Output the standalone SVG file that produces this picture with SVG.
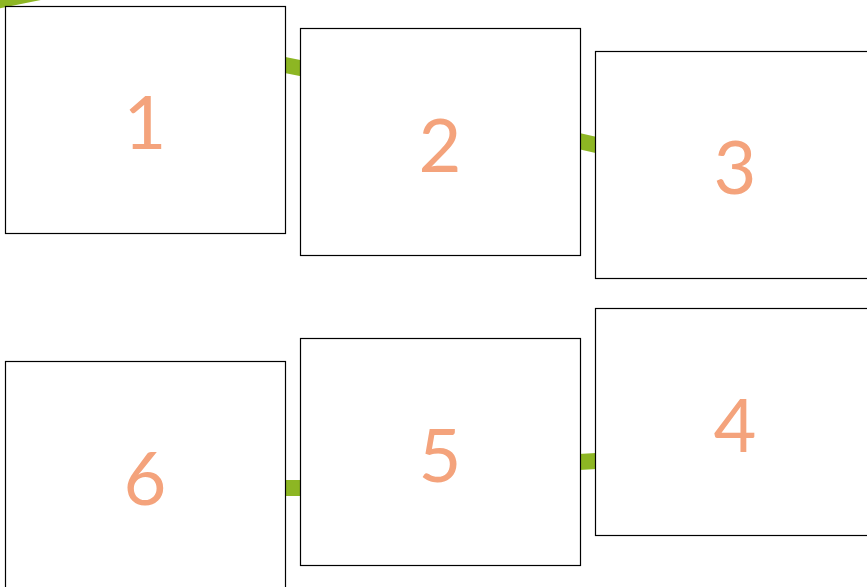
<svg xmlns="http://www.w3.org/2000/svg" width="867" height="587" viewBox="0 0 867 587">
<style>
.box rect{fill:#fff;stroke:#000;stroke-width:1.2}
.box text{font-family:Lato,"Open Sans",sans-serif;font-size:74px;fill:#F4A37C;text-anchor:middle}
.conn line{stroke:#8DB623;stroke-width:16;fill:none}
</style>
<rect width="867" height="587" fill="#fff"/>
<g id="connectors" class="conn">
<line x1="-20" y1="4" x2="60" y2="-12"/>
<line x1="275" y1="63" x2="310" y2="70"/>
<line x1="570" y1="139" x2="605" y2="147"/>
<line x1="570" y1="462.5" x2="605" y2="460.5"/>
<line x1="275" y1="488" x2="310" y2="488"/>
</g>
<g id="node1" class="box"><rect x="5.5" y="6.5" width="280" height="227"/><text x="145" y="149">1</text></g>
<g id="node2" class="box"><rect x="300.5" y="28.5" width="280" height="227"/><text x="440" y="172">2</text></g>
<g id="node3" class="box"><rect x="595.5" y="51.5" width="280" height="227"/><text x="735" y="194">3</text></g>
<g id="node4" class="box"><rect x="595.5" y="308.5" width="280" height="227"/><text x="735" y="452">4</text></g>
<g id="node5" class="box"><rect x="300.5" y="338.5" width="280" height="227"/><text x="440" y="482">5</text></g>
<g id="node6" class="box"><rect x="5.5" y="361.5" width="280" height="227"/><text x="145" y="505">6</text></g>
</svg>
